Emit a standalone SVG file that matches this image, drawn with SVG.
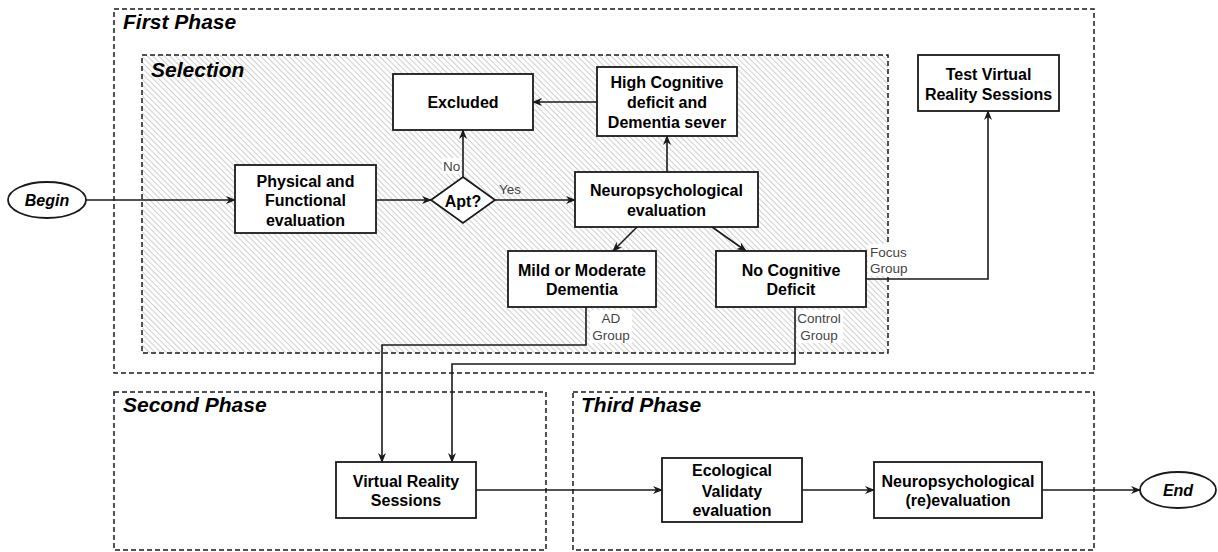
<svg xmlns="http://www.w3.org/2000/svg" width="1218" height="552" viewBox="0 0 1218 552">
<style>
.phase{fill:none;stroke:#1a1a1a;stroke-width:1.5;stroke-dasharray:5 3}
.box{fill:#fff;stroke:#1a1a1a;stroke-width:1.8}
.t{font-family:"Liberation Sans",Arial,sans-serif;font-size:16px;font-weight:bold;fill:#000;text-anchor:middle}
.title{font-family:"Liberation Sans",Arial,sans-serif;font-size:21px;font-weight:bold;font-style:italic;fill:#000}
.ti{font-style:italic}
.lbl{font-family:"Liberation Sans",Arial,sans-serif;font-size:13.5px;fill:#444}
.edge{fill:none;stroke:#1a1a1a;stroke-width:1.6;marker-end:url(#arr)}
.lbg{fill:#fff}
</style>
<defs>
<pattern id="hatch" width="4" height="4" patternUnits="userSpaceOnUse" patternTransform="rotate(-45)">
<rect width="4" height="4" fill="#fff"/>
<line x1="0" y1="0" x2="0" y2="4" stroke="#b5b5b5" stroke-width="1.3"/>
</pattern>
<marker id="arr" viewBox="0 0 10 8" refX="9" refY="4" markerWidth="10" markerHeight="8" markerUnits="userSpaceOnUse" orient="auto">
<path d="M0,0 L10,4 L0,8 L3,4 Z" fill="#1a1a1a"/>
</marker>
</defs>
<rect width="1218" height="552" fill="#fff"/>

<g id="first-phase">
<rect class="phase" x="114" y="9" width="980" height="364"/>
<text class="title" x="123" y="29">First Phase</text>
</g>
<g id="selection">
<rect x="142" y="55" width="746" height="298" fill="url(#hatch)" stroke="#1a1a1a" stroke-width="1.5" stroke-dasharray="5 3"/>
<text class="title" x="151" y="77">Selection</text>
</g>
<g id="second-phase">
<rect class="phase" x="114" y="392" width="432" height="158"/>
<text class="title" x="123" y="412">Second Phase</text>
</g>
<g id="third-phase">
<rect class="phase" x="573" y="392" width="521" height="158"/>
<text class="title" x="581" y="412">Third Phase</text>
</g>

<g id="connectors">
<path class="edge" d="M86,200 L235,200"/>
<path class="edge" d="M376,200 L431,200"/>
<path class="edge" d="M463,177 L463,130"/>
<path class="edge" d="M495,200 L575,200"/>
<path class="edge" d="M667,172 L667,136"/>
<path class="edge" d="M597,102 L533,102"/>
<path class="edge" d="M637,227 L613,251"/>
<path class="edge" d="M712,227 L746,251"/>
<path class="edge" d="M866,279 L988,279 L988,111"/>
<path class="edge" d="M586,307 L586,345 L382,345 L382,462"/>
<path class="edge" d="M795,307 L795,364 L452,364 L452,462"/>
<path class="edge" d="M476,490 L662,490"/>
<path class="edge" d="M802,490 L874,490"/>
<path class="edge" d="M1042,490 L1140,490"/>
<rect class="lbg" x="442" y="158" width="19" height="16"/>
<text class="lbl" x="443" y="171">No</text>
<text class="lbl" x="499" y="194">Yes</text>
<rect class="lbg" x="868" y="244" width="41" height="32"/>
<text class="lbl" x="870" y="257">Focus</text>
<text class="lbl" x="870" y="273">Group</text>
<rect class="lbg" x="590" y="310" width="42" height="33"/>
<text class="lbl" x="611" y="323" text-anchor="middle">AD</text>
<text class="lbl" x="611" y="340" text-anchor="middle">Group</text>
<rect class="lbg" x="797" y="310" width="46" height="33"/>
<text class="lbl" x="819" y="323" text-anchor="middle">Control</text>
<text class="lbl" x="819" y="340" text-anchor="middle">Group</text>
</g>

<g id="begin">
<ellipse class="box" cx="47" cy="200" rx="39" ry="18"/>
<text class="t ti" x="47" y="206">Begin</text>
</g>
<g id="physical">
<rect class="box" x="235" y="165" width="141" height="68"/>
<text class="t" x="305.5" y="187">Physical and</text>
<text class="t" x="305.5" y="206">Functional</text>
<text class="t" x="305.5" y="226">evaluation</text>
</g>
<g id="apt">
<polygon class="box" points="463,177 495,200 463,223 431,200"/>
<text class="t" x="463" y="207">Apt?</text>
</g>
<g id="excluded">
<rect class="box" x="393" y="74" width="140" height="56"/>
<text class="t" x="463" y="108">Excluded</text>
</g>
<g id="high-cognitive">
<rect class="box" x="597" y="67" width="140" height="69"/>
<text class="t" x="667" y="88">High Cognitive</text>
<text class="t" x="667" y="108">deficit and</text>
<text class="t" x="667" y="128">Dementia sever</text>
</g>
<g id="neuro-eval">
<rect class="box" x="575" y="172" width="183" height="55"/>
<text class="t" x="666.5" y="196">Neuropsychological</text>
<text class="t" x="666.5" y="216">evaluation</text>
</g>
<g id="mild">
<rect class="box" x="508" y="251" width="148" height="56"/>
<text class="t" x="582" y="276">Mild or Moderate</text>
<text class="t" x="582" y="295">Dementia</text>
</g>
<g id="no-cognitive">
<rect class="box" x="716" y="251" width="150" height="56"/>
<text class="t" x="791" y="276">No Cognitive</text>
<text class="t" x="791" y="295">Deficit</text>
</g>
<g id="test-vr">
<rect class="box" x="918" y="55" width="141" height="56"/>
<text class="t" x="988.5" y="80">Test Virtual</text>
<text class="t" x="988.5" y="100">Reality Sessions</text>
</g>
<g id="vr-sessions">
<rect class="box" x="336" y="462" width="140" height="56"/>
<text class="t" x="406" y="487">Virtual Reality</text>
<text class="t" x="406" y="506">Sessions</text>
</g>
<g id="ecological">
<rect class="box" x="662" y="458" width="140" height="64"/>
<text class="t" x="732" y="476">Ecological</text>
<text class="t" x="732" y="497">Validaty</text>
<text class="t" x="732" y="516">evaluation</text>
</g>
<g id="neuro-reeval">
<rect class="box" x="874" y="462" width="168" height="56"/>
<text class="t" x="958" y="487">Neuropsychological</text>
<text class="t" x="958" y="506">(re)evaluation</text>
</g>
<g id="end">
<ellipse class="box" cx="1178" cy="490" rx="38" ry="18"/>
<text class="t ti" x="1178" y="496">End</text>
</g>
</svg>
